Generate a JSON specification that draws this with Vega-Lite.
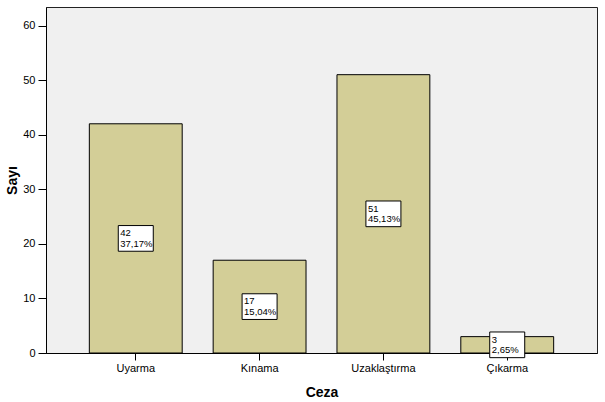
{
  "$schema": "https://vega.github.io/schema/vega-lite/v6.json",
  "width": 551,
  "height": 346,
  "autosize": "none",
  "padding": {"left": 46, "top": 7, "right": 8, "bottom": 49},
  "background": "#ffffff",
  "config": {
    "font": "Liberation Sans",
    "view": {"fill": "#f0f0f0", "stroke": "#222222", "strokeWidth": 1}
  },
  "data": {
    "values": [
      {"Ceza": "Uyarma", "Sayi": 42, "label": "42\n37,17%"},
      {"Ceza": "Kınama", "Sayi": 17, "label": "17\n15,04%"},
      {"Ceza": "Uzaklaştırma", "Sayi": 51, "label": "51\n45,13%"},
      {"Ceza": "Çıkarma", "Sayi": 3, "label": "3\n2,65%"}
    ]
  },
  "encoding": {
    "x": {
      "field": "Ceza",
      "type": "nominal",
      "sort": null,
      "scale": {"paddingInner": 0.25, "paddingOuter": 0.35},
      "axis": {
        "title": "Ceza",
        "titleFontSize": 14,
        "titleFontWeight": "bold",
        "titleColor": "#000000",
        "titleBaseline": "middle",
        "titleY": 39,
        "labelAngle": 0,
        "labelFontSize": 11,
        "labelColor": "#000000",
        "labelPadding": 2,
        "tickColor": "#000000",
        "tickSize": 7,
        "domainColor": "#000000",
        "grid": false
      }
    }
  },
  "layer": [
    {
      "mark": {"type": "bar", "fill": "#d3ce97", "stroke": "#000000", "strokeWidth": 1},
      "encoding": {
        "y": {
          "field": "Sayi",
          "type": "quantitative",
          "scale": {"domain": [0, 63.4], "nice": false, "zero": true},
          "axis": {
            "title": "Sayı",
            "titleFontSize": 14,
            "titleFontWeight": "bold",
            "titleColor": "#000000",
            "titleAngle": 270,
            "titleAlign": "center",
            "titleBaseline": "middle",
            "titleX": -34,
            "titleY": 173,
            "values": [0, 10, 20, 30, 40, 50, 60],
            "labelFontSize": 11,
            "labelColor": "#000000",
            "labelPadding": 3,
            "tickColor": "#000000",
            "tickSize": 8,
            "domainColor": "#000000",
            "grid": false
          }
        }
      }
    },
    {
      "mark": {
        "type": "point",
        "shape": "M-1,-0.734L1,-0.734L1,0.734L-1,0.734Z",
        "size": 1225,
        "filled": true,
        "fill": "#ffffff",
        "stroke": "#000000",
        "strokeWidth": 1,
        "opacity": 1
      },
      "encoding": {
        "y": {
          "field": "Sayi",
          "type": "quantitative",
          "scale": {"domain": [0, 126.8], "nice": false, "zero": true},
          "axis": null
        }
      }
    },
    {
      "mark": {
        "type": "text",
        "align": "left",
        "baseline": "middle",
        "dx": -15.5,
        "dy": -5.3,
        "fontSize": 9.5,
        "lineBreak": "\n",
        "lineHeight": 10.6,
        "color": "#000000"
      },
      "encoding": {
        "y": {
          "field": "Sayi",
          "type": "quantitative",
          "scale": {"domain": [0, 126.8], "nice": false, "zero": true},
          "axis": null
        },
        "text": {"field": "label"}
      }
    }
  ],
  "resolve": {"scale": {"y": "independent"}}
}
